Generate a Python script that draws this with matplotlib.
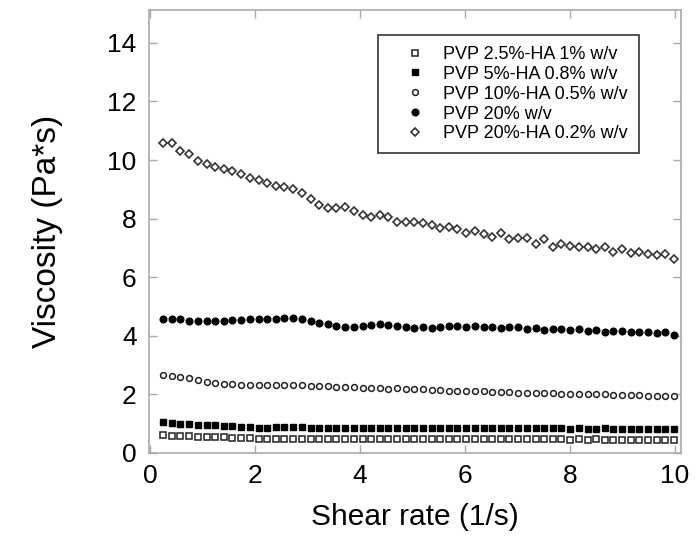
import matplotlib
matplotlib.use("Agg")
import matplotlib.pyplot as plt

shear_rate = [0.25, 0.42, 0.58, 0.75, 0.91, 1.08, 1.24, 1.41, 1.57, 1.74,
              1.90, 2.07, 2.23, 2.40, 2.56, 2.73, 2.89, 3.06, 3.22, 3.39,
              3.55, 3.72, 3.88, 4.05, 4.21, 4.38, 4.54, 4.71, 4.87, 5.04,
              5.20, 5.37, 5.53, 5.70, 5.86, 6.03, 6.19, 6.36, 6.52, 6.69,
              6.85, 7.02, 7.18, 7.35, 7.51, 7.68, 7.84, 8.01, 8.17, 8.34,
              8.50, 8.67, 8.83, 9.00, 9.16, 9.33, 9.49, 9.66, 9.82, 9.99]

labels = ["PVP 2.5%-HA 1% w/v", "PVP 5%-HA 0.8% w/v", "PVP 10%-HA 0.5% w/v",
          "PVP 20% w/v", "PVP 20%-HA 0.2% w/v"]

pvp25_ha1 = [0.62, 0.58, 0.57, 0.57, 0.55, 0.54, 0.54, 0.53, 0.52, 0.52,
             0.50, 0.48, 0.49, 0.49, 0.49, 0.49, 0.48, 0.48, 0.48, 0.48,
             0.48, 0.48, 0.48, 0.48, 0.48, 0.47, 0.48, 0.48, 0.47, 0.47,
             0.47, 0.47, 0.48, 0.47, 0.47, 0.47, 0.47, 0.46, 0.47, 0.46,
             0.46, 0.46, 0.46, 0.46, 0.46, 0.46, 0.46, 0.45, 0.46, 0.45,
             0.46, 0.45, 0.45, 0.45, 0.45, 0.45, 0.45, 0.45, 0.45, 0.45]

pvp5_ha08 = [1.05, 1.04, 1.00, 0.99, 0.95, 0.95, 0.95, 0.93, 0.91, 0.88,
             0.87, 0.86, 0.86, 0.87, 0.87, 0.88, 0.87, 0.86, 0.86, 0.85,
             0.86, 0.86, 0.86, 0.86, 0.86, 0.86, 0.85, 0.86, 0.86, 0.86,
             0.86, 0.85, 0.86, 0.85, 0.86, 0.85, 0.85, 0.84, 0.85, 0.84,
             0.84, 0.85, 0.84, 0.84, 0.84, 0.84, 0.84, 0.83, 0.84, 0.83,
             0.83, 0.84, 0.83, 0.83, 0.83, 0.83, 0.82, 0.83, 0.83, 0.82]

pvp10_ha05 = [2.66, 2.63, 2.58, 2.55, 2.49, 2.43, 2.40, 2.35, 2.34, 2.32,
              2.32, 2.33, 2.33, 2.32, 2.32, 2.31, 2.31, 2.30, 2.29, 2.27,
              2.25, 2.24, 2.24, 2.23, 2.22, 2.22, 2.20, 2.21, 2.19, 2.18,
              2.17, 2.15, 2.15, 2.13, 2.13, 2.11, 2.10, 2.10, 2.08, 2.08,
              2.08, 2.06, 2.06, 2.05, 2.05, 2.05, 2.03, 2.03, 2.02, 2.02,
              2.00, 2.00, 1.99, 1.99, 1.97, 1.97, 1.95, 1.95, 1.93, 1.93]

pvp20 = [4.57, 4.57, 4.56, 4.51, 4.51, 4.51, 4.51, 4.51, 4.54, 4.54,
         4.56, 4.56, 4.58, 4.58, 4.60, 4.60, 4.58, 4.50, 4.43, 4.39,
         4.33, 4.31, 4.31, 4.33, 4.38, 4.40, 4.38, 4.34, 4.31, 4.28,
         4.31, 4.28, 4.31, 4.33, 4.33, 4.29, 4.33, 4.31, 4.29, 4.25,
         4.29, 4.29, 4.23, 4.25, 4.20, 4.22, 4.22, 4.20, 4.22, 4.16,
         4.20, 4.14, 4.17, 4.16, 4.14, 4.12, 4.14, 4.08, 4.12, 4.03]

pvp20_ha02 = [10.57, 10.57, 10.32, 10.19, 9.98, 9.86, 9.77, 9.68, 9.61, 9.51,
              9.40, 9.32, 9.20, 9.11, 9.07, 9.00, 8.86, 8.66, 8.46, 8.37,
              8.37, 8.41, 8.27, 8.11, 8.07, 8.12, 8.07, 7.89, 7.87, 7.88,
              7.86, 7.78, 7.67, 7.72, 7.63, 7.52, 7.59, 7.47, 7.38, 7.50,
              7.29, 7.33, 7.35, 7.15, 7.29, 7.04, 7.13, 7.08, 7.04, 7.04,
              6.95, 7.02, 6.87, 6.95, 6.81, 6.87, 6.79, 6.76, 6.79, 6.61]

x_ticks = [0, 2, 4, 6, 8, 10]
y_ticks = [0, 2, 4, 6, 8, 10, 12, 14]

plt.rcParams['font.family'] = ['Liberation Sans', 'DejaVu Sans']

fig = plt.figure(figsize=(6.98, 5.39), dpi=100)
ax = fig.add_axes([0.2135, 0.1596, 0.762, 0.8218])

series = [pvp25_ha1, pvp5_ha08, pvp10_ha05, pvp20, pvp20_ha02]
styles = [
    dict(marker='s', ms=5.0, mfc='white', mec='#222222', mew=1.1),
    dict(marker='s', ms=5.0, mfc='black', mec='black', mew=1.0),
    dict(marker='o', ms=4.2, mfc='white', mec='#222222', mew=1.1),
    dict(marker='o', ms=4.8, mfc='black', mec='black', mew=1.0),
    dict(marker='D', ms=4.3, mfc='white', mec='#333333', mew=1.2),
]
for ys, lab, st in zip(series, labels, styles):
    ax.plot(shear_rate, ys, linestyle='none', label=lab, **st)

ax.set_xlim(-0.02, 10.12)
ax.set_ylim(0, 15.12)
ax.set_xticks(x_ticks)
ax.set_yticks(y_ticks)
ax.tick_params(direction='in', length=6, width=1, color='#aaaaaa',
               labelsize=19, top=True, right=True)
ax.tick_params(axis='y', pad=9)
ax.tick_params(axis='x', pad=8)
for sp in ax.spines.values():
    sp.set_color('#aaaaaa')
    sp.set_linewidth(1.2)

ax.set_xlabel("Shear rate (1/s)", fontsize=21.5, labelpad=11)
ax.set_ylabel("Viscosity (Pa*s)", fontsize=24, labelpad=32)

leg = ax.legend(loc='upper right', bbox_to_anchor=(0.921, 0.9436),
                fontsize=13, frameon=True, fancybox=False, borderaxespad=0,
                borderpad=0.6, labelspacing=0.16, handlelength=2.8,
                handletextpad=0.2, numpoints=1)
leg.get_frame().set_edgecolor('black')
leg.get_frame().set_linewidth(1.2)

fig.savefig("out.png", dpi=100)
